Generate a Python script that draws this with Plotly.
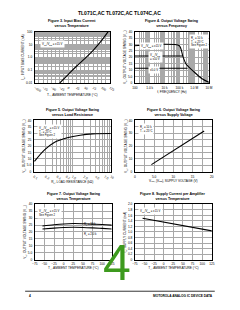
import plotly.graph_objects as go
import numpy as np

W, H = 240, 310

# ---------------- DATA ----------------
# Figure 3: input bias current vs temperature
f3_temp = [-25, 0, 25, 50, 75, 100, 120]
f3_iib = [0.01, 0.045, 0.2, 0.8, 3.5, 20, 100]
f3_xticks = [-100, -75, -50, -25, 0, 25, 50, 75, 100, 125]
f3_yticks = [0.01, 0.1, 1, 10, 100]
f3_yticktext = ["0.01", "0.1", "1.0", "10", "100"]

# Figure 4: output swing vs frequency
f4_freq_15 = [100, 1e5, 1.7e5, 2.75e5, 9.6e5, 3.4e6, 1e7]
f4_vo_15 = [29.0, 29.0, 21.0, 15.0, 8.7, 3.3, 0.5]
f4_freq_10 = [100, 1.7e5]
f4_vo_10 = [21.0, 21.0]
f4_freq_5 = [100, 3.6e5]
f4_vo_5 = [11.5, 11.5]
f4_xticks = [100, 1e3, 1e4, 1e5, 1e6, 1e7]
f4_xticktext = ["100", "1.0 k", "10 k", "100 k", "1.0 M", "10 M"]

# Figure 5: output swing vs load resistance
f5_rl = [0.104, 0.19, 0.34, 0.74, 1.6, 3.4, 10]
f5_vo = [8.1, 17.1, 22.9, 26.5, 28.5, 29.5, 29.8]
f5_xticks = [0.1, 0.2, 0.4, 0.7, 1.0, 2.0, 4.0, 7.0, 10]
f5_xticktext = ["0.1", "0.2", "0.4", "0.7", "1.0", "2.0", "4.0", "7.0", "10"]

# Figure 6: output swing vs supply voltage
f6_vcc = [4.3, 18.0]
f6_vo = [5.6, 31.8]

# Figure 7: output swing vs temperature
f7_temp = [-55, -25, 0, 25, 50, 75, 100, 125]
f7_vo_10k = [24.3, 25.2, 25.8, 26.1, 26.0, 25.7, 25.4, 25.0]
f7_vo_2k = [22.2, 22.8, 23.2, 23.4, 23.3, 23.0, 22.6, 22.2]

# Figure 8: supply current vs temperature
f8_temp = [-55, 125]
f8_id = [1.50, 1.04]

temp_ticks = [-75, -50, -25, 0, 25, 50, 75, 100, 125]
vo_ticks = [0, 5, 10, 15, 20, 25, 30, 35, 40]
vo_ticktext = ["0", "5.0", "10", "15", "20", "25", "30", "35", "40"]

# ---------------- LAYOUT HELPERS ----------------
FONT = "Liberation Sans, Arial, sans-serif"
GRID = "#a8a8a8"
TF = 3.2

def px(x):
    return x / W

def py(y):
    return 1 - y / H

boxes = {
    1: (33, 111, 30, 82),
    2: (137, 214, 30, 82),
    3: (32, 112, 120, 172),
    4: (137, 217, 120, 172),
    5: (33, 113, 205, 261),
    6: (137, 217, 205, 261),
}

fig = go.Figure()
layout = dict(
    width=W, height=H, margin=dict(l=0, r=0, t=0, b=0),
    paper_bgcolor="white", plot_bgcolor="white", showlegend=False,
    font=dict(family=FONT, size=TF, color="black"),
)
annotations = []
shapes = []

def axis_common():
    return dict(showline=True, linecolor="black", linewidth=0.8, mirror=True,
                showgrid=True, gridcolor=GRID, gridwidth=0.5, zeroline=False,
                ticks="", tickfont=dict(size=TF, family=FONT), ticklabelstandoff=1)

def add_axes(i, xa, ya, title, xtitle, ytitle):
    x0, x1, y0, y1 = boxes[i]
    xk = "xaxis" if i == 1 else f"xaxis{i}"
    yk = "yaxis" if i == 1 else f"yaxis{i}"
    xa.update(axis_common())
    ya.update(axis_common())
    xa.update(domain=[px(x0), px(x1)], anchor=f"y{'' if i == 1 else i}")
    ya.update(domain=[py(y1), py(y0)], anchor=f"x{'' if i == 1 else i}")
    xa["title"] = dict(text=xtitle, font=dict(size=TF, family=FONT), standoff=1)
    ya["title"] = dict(text=ytitle, font=dict(size=TF, family=FONT), standoff=1)
    layout[xk] = xa
    layout[yk] = ya
    annotations.append(dict(text="<b>" + title + "</b>", xref="paper", yref="paper",
                            x=px((x0 + x1) / 2), y=py(y0 - 1.5), xanchor="center", yanchor="bottom",
                            showarrow=False, font=dict(size=3.6, family=FONT)))

def note(text, x, y, xanchor="left", yanchor="top", bg=True):
    annotations.append(dict(text=text, xref="paper", yref="paper", x=px(x), y=py(y),
                            xanchor=xanchor, yanchor=yanchor, showarrow=False, align="left",
                            bgcolor="white" if bg else None,
                            font=dict(size=2.8, family=FONT)))

LINE = dict(color="black", width=1.1)
MINOR = dict(showgrid=True, gridcolor=GRID, gridwidth=0.4)

# Figure 3
fig.add_trace(go.Scatter(x=f3_temp, y=f3_iib, mode="lines", line=dict(LINE, shape="spline"),
                         xaxis="x", yaxis="y"))
add_axes(1,
         dict(range=[-100, 125], tickvals=f3_xticks, minor=dict(MINOR, dtick=12.5)),
         dict(type="log", range=[-2, 2], tickvals=f3_yticks, ticktext=f3_yticktext,
              minor=dict(MINOR, dtick="D1")),
         "Figure 3. Input Bias Current<br>versus Temperature",
         "T<sub>A</sub>, AMBIENT TEMPERATURE (°C)",
         "I<sub>IB</sub>, INPUT BIAS CURRENT (nA)")
note("V<sub>CC</sub>/V<sub>EE</sub> = ±15 V", 38, 38)

# Figure 4
for xs, ys in [(f4_freq_15, f4_vo_15), (f4_freq_10, f4_vo_10), (f4_freq_5, f4_vo_5)]:
    fig.add_trace(go.Scatter(x=xs, y=ys, mode="lines", line=dict(LINE, shape="spline", smoothing=0.6),
                             xaxis="x2", yaxis="y2"))
add_axes(2,
         dict(type="log", range=[2, 7], tickvals=f4_xticks, ticktext=f4_xticktext,
              minor=dict(MINOR, dtick="D1")),
         dict(range=[0, 40], tickvals=vo_ticks, ticktext=vo_ticktext),
         "Figure 4. Output Voltage Swing<br>versus Frequency",
         "f, FREQUENCY (Hz)",
         "V<sub>O</sub>, OUTPUT VOLTAGE SWING (V<sub>pp</sub>)")
note("V<sub>CC</sub>/V<sub>EE</sub> = ±15 V", 141, 41)
note("V<sub>CC</sub>/V<sub>EE</sub><br>= ±10 V", 151, 50)
note("±5.0 V", 151, 65)
note("R<sub>L</sub> = 10 k<br>T<sub>A</sub> = 25°C<br>See Figure 2", 193, 32)

# Figure 5
fig.add_trace(go.Scatter(x=f5_rl, y=f5_vo, mode="lines", line=dict(LINE, shape="spline"),
                         xaxis="x3", yaxis="y3"))
add_axes(3,
         dict(type="log", range=[-1, 1], tickvals=f5_xticks, ticktext=f5_xticktext,
              minor=dict(MINOR, dtick="D1")),
         dict(range=[0, 40], tickvals=vo_ticks, ticktext=vo_ticktext),
         "Figure 5. Output Voltage Swing<br>versus Load Resistance",
         "R<sub>L</sub>, LOAD RESISTANCE (kΩ)",
         "V<sub>O</sub>, OUTPUT VOLTAGE SWING (V<sub>pp</sub>)")
note("V<sub>CC</sub>/V<sub>EE</sub> = ±15 V<br>T<sub>A</sub> = 25°C<br>See Figure 2", 35, 124)

# Figure 6
fig.add_trace(go.Scatter(x=f6_vcc, y=f6_vo, mode="lines", line=LINE, xaxis="x4", yaxis="y4"))
add_axes(4,
         dict(range=[0, 20], tickvals=[0, 5, 10, 15, 20], ticktext=["0", "5.0", "10", "15", "20"],
              minor=dict(MINOR, dtick=2.5)),
         dict(range=[0, 40], tickvals=[0, 10, 20, 30, 40], minor=dict(MINOR, dtick=5)),
         "Figure 6. Output Voltage Swing<br>versus Supply Voltage",
         "V<sub>CC</sub>, |V<sub>EE</sub>|, SUPPLY VOLTAGE (V)",
         "V<sub>O</sub>, OUTPUT VOLTAGE SWING (V<sub>pp</sub>)")
note("R<sub>L</sub> = 10 k<br>T<sub>A</sub> = 25°C", 140, 123)

# Figure 7
fig.add_trace(go.Scatter(x=f7_temp, y=f7_vo_10k, mode="lines", line=dict(LINE, shape="spline"), xaxis="x5", yaxis="y5"))
fig.add_trace(go.Scatter(x=f7_temp, y=f7_vo_2k, mode="lines", line=dict(LINE, shape="spline"), xaxis="x5", yaxis="y5"))
add_axes(5,
         dict(range=[-75, 125], tickvals=temp_ticks),
         dict(range=[0, 40], tickvals=vo_ticks, ticktext=vo_ticktext),
         "Figure 7. Output Voltage Swing<br>versus Temperature",
         "T<sub>A</sub>, AMBIENT TEMPERATURE (°C)",
         "V<sub>O</sub>, OUTPUT VOLTAGE SWING (V<sub>pp</sub>)")
note("V<sub>CC</sub>/V<sub>EE</sub> = ±15 V<br>See Figure 2", 35, 208)
note("R<sub>L</sub> = 10 k", 82, 221, bg=False)
note("R<sub>L</sub> = 2.0 k", 82, 231, bg=False)

# Figure 8
fig.add_trace(go.Scatter(x=f8_temp, y=f8_id, mode="lines", line=LINE, xaxis="x6", yaxis="y6"))
add_axes(6,
         dict(range=[-75, 125], tickvals=temp_ticks),
         dict(range=[0, 2.0], tickvals=[i / 5 for i in range(11)],
              ticktext=["0", "0.2", "0.4", "0.6", "0.8", "1.0", "1.2", "1.4", "1.6", "1.8", "2.0"]),
         "Figure 8. Supply Current per Amplifier<br>versus Temperature",
         "T<sub>A</sub>, AMBIENT TEMPERATURE (°C)",
         "I<sub>D</sub>, SUPPLY CURRENT (mA)")
note("V<sub>CC</sub>/V<sub>EE</sub> = ±15 V", 140, 208)

# Page header / footer
annotations.append(dict(text="<b>TL071C,AC TL072C,AC TL074C,AC</b>", xref="paper", yref="paper",
                        x=px(121), y=py(11), xanchor="center", yanchor="middle", showarrow=False,
                        font=dict(size=5, family=FONT)))
shapes.append(dict(type="line", xref="paper", yref="paper", x0=px(23), x1=px(220), y0=py(293), y1=py(293),
                   line=dict(color="black", width=0.8)))
annotations.append(dict(text="<b>4</b>", xref="paper", yref="paper", x=px(25), y=py(297.5),
                        xanchor="left", yanchor="middle", showarrow=False, font=dict(size=3.2, family=FONT)))
annotations.append(dict(text="<b>MOTOROLA ANALOG IC DEVICE DATA</b>", xref="paper", yref="paper",
                        x=px(220), y=py(297.5), xanchor="right", yanchor="middle", showarrow=False,
                        font=dict(size=3.2, family=FONT)))
annotations.append(dict(text="4", xref="paper", yref="paper", x=px(118.5), y=py(264),
                        xanchor="center", yanchor="middle", showarrow=False,
                        font=dict(size=50, family=FONT, color="#3d9a1e")))

layout["annotations"] = annotations
layout["shapes"] = shapes
fig.update_layout(**layout)
fig.write_html("out.html")
